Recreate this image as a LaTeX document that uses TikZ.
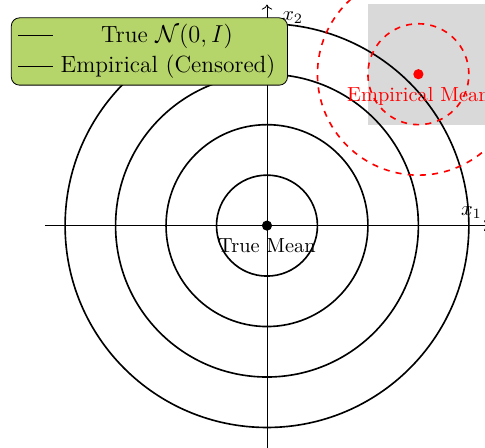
\documentclass[tikz,border=0pt]{standalone}
\usepackage{amsmath,amssymb}
\usepackage{tikz}
\usetikzlibrary{arrows.meta,positioning}
\definecolor{legendgreen}{RGB}{181,212,106}
\tikzset{
  levelset/.style={thick},
  empset/.style={red, thick, dashed},
  axisline/.style={->},
  meandot/.style={circle, fill, inner sep=0pt, minimum size=5pt},
  legendbox/.style={draw, rounded corners=4pt, fill=legendgreen,
    minimum width=4.76cm, minimum height=1.16cm},
  legendtext/.style={font=\fontsize{11.5}{14}\selectfont},
}

\begin{document}
\begin{tikzpicture}[scale=0.87]
  \useasboundingbox (-5.29,-4.40) rectangle (4.32,4.47);
  % censored region
  \fill[gray!30] (2,2) rectangle (4.4,4.4);
  % level sets of the true density
  \foreach \r in {1,2,3,4}
    \draw[levelset] (0,0) circle (\r);
  \draw[axisline] (-4.4,0) -- (4.4,0) node[above left] {$x_1$};
  \draw[axisline] (0,-4.4) -- (0,4.38) node[below right, xshift=4pt] {$x_2$};
  % empirical level sets
  \draw[empset] (3,3) circle (1);
  \draw[empset] (3,3) circle (2);
  \node[meandot] (truemean) at (0,0) {};
  \node[below=0pt of truemean] (truelabel) {True Mean};
  \node[meandot, red] (empmean) at (3,3) {};
  \node[below=0pt of empmean, text=red] (emplabel) {Empirical Mean};
  % legend
  \node[legendbox] (legend) at (-2.33,3.45) {};
  \coordinate (l1a) at (-4.93,3.76);
  \coordinate (l1b) at (-4.24,3.76);
  \coordinate (l2a) at (-4.93,3.15);
  \coordinate (l2b) at (-4.24,3.15);
  \draw (l1a) -- (l1b);
  \draw[thick] (l2a) -- (l2b);
  \node[legendtext] (truetext) at (-1.98,3.74) {True $\mathcal{N}(0,I)$};
  \node[legendtext] (emptext) at (-1.96,3.15) {Empirical (Censored)};
\end{tikzpicture}
\end{document}
